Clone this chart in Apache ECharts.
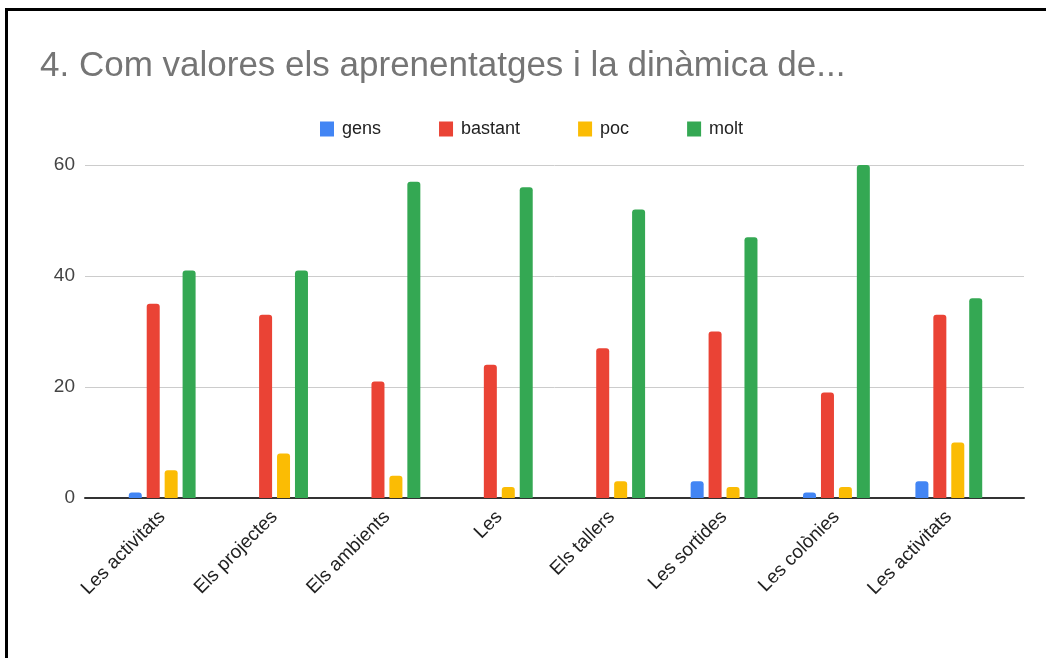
<!DOCTYPE html>
<html>
<head>
<meta charset="utf-8">
<script src="https://cdn.jsdelivr.net/npm/echarts@6/dist/echarts.min.js"></script>
<style>
  html, body { margin: 0; padding: 0; background: #fff; }
  #main { width: 1046px; height: 658px; }
</style>
</head>
<body>
<div id="main"></div>
<script>
var categories = ['Les activitats', 'Els projectes', 'Els ambients', 'Les', 'Els tallers', 'Les sortides', 'Les colònies', 'Les activitats'];
var gens = [1, 0, 0, 0, 0, 3, 1, 3];
var bastant = [35, 33, 21, 24, 27, 30, 19, 33];
var poc = [5, 8, 4, 2, 3, 2, 2, 10];
var molt = [41, 41, 57, 56, 52, 47, 60, 36];
var seriesNames = ['gens', 'bastant', 'poc', 'molt'];
var seriesColors = ['#4285F4', '#EA4335', '#FBBC04', '#34A853'];
var yMin = 0, yMax = 60, yStep = 20;

var font = '"Liberation Sans", Arial, sans-serif';
var myChart = echarts.init(document.getElementById('main'));

function barSeries(i, values) {
    return {
        name: seriesNames[i],
        type: 'bar',
        xAxisIndex: 1,
        yAxisIndex: 1,
        data: values,
        barWidth: 13,
        barGap: '38%',
        itemStyle: { color: seriesColors[i], borderRadius: [3, 3, 0, 0] }
    };
}

myChart.setOption({
    animation: false,
    title: {
        text: '4. Com valores els aprenentatges i la dinàmica de...',
        left: 35,
        top: 44,
        textStyle: { fontFamily: font, fontSize: 35, fontWeight: 'normal', color: '#757575' }
    },
    legend: {
        data: seriesNames,
        left: 315,
        top: 115,
        icon: 'rect',
        itemWidth: 14,
        itemHeight: 15,
        itemGap: 58,
        textStyle: { fontFamily: font, fontSize: 18, color: '#222', padding: [0, 0, 0, 3] }
    },
    grid: [
        { left: 85, right: 22, top: 165, bottom: 160 },   // gridlines + y labels
        { left: 106, right: 41, top: 165, bottom: 160 }   // bars
    ],
    xAxis: [
        {
            gridIndex: 0, type: 'value', min: 0, max: 1,
            axisLine: { show: true, lineStyle: { color: '#333', width: 2 } },
            axisTick: { show: false }, axisLabel: { show: false }, splitLine: { show: false }
        },
        {
            gridIndex: 1, type: 'category', data: categories,
            axisLine: { show: false }, axisTick: { show: false },
            axisLabel: { rotate: 45, margin: 16, fontFamily: font, fontSize: 19, color: '#222', interval: 0 }
        }
    ],
    yAxis: [
        {
            gridIndex: 0, type: 'value', min: yMin, max: yMax, interval: yStep,
            axisLine: { show: false }, axisTick: { show: false },
            axisLabel: { fontFamily: font, fontSize: 19, color: '#444', margin: 10 },
            splitLine: { lineStyle: { color: '#ccc', width: 1 } }
        },
        {
            gridIndex: 1, type: 'value', min: yMin, max: yMax, interval: yStep,
            show: false
        }
    ],
    series: [
        barSeries(0, gens),
        barSeries(1, bastant),
        barSeries(2, poc),
        barSeries(3, molt)
    ],
    graphic: [
        { type: 'line', shape: { x1: 5, y1: 9.5, x2: 1046, y2: 9.5 }, style: { stroke: '#000', lineWidth: 3 } },
        { type: 'line', shape: { x1: 6.5, y1: 8, x2: 6.5, y2: 658 }, style: { stroke: '#000', lineWidth: 3 } }
    ]
});
</script>
</body>
</html>
